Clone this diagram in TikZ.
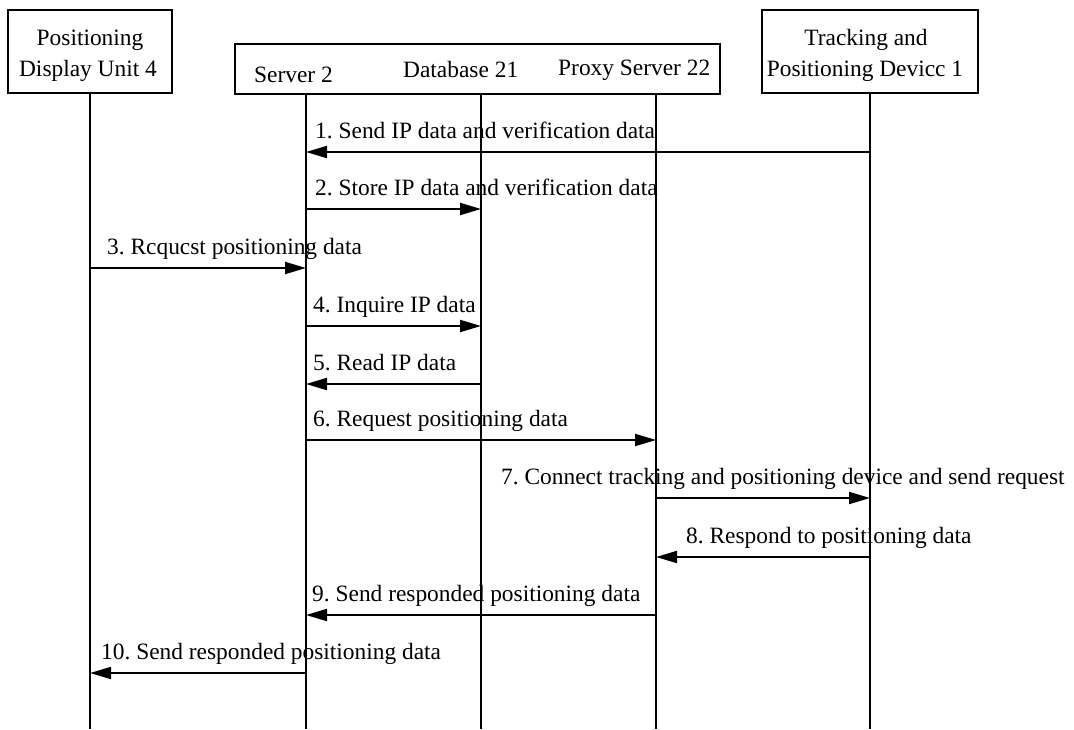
\documentclass[tikz,border=0pt]{standalone}
\usepackage{fontspec}
\setmainfont{Liberation Serif}
\usetikzlibrary{arrows.meta}
\frenchspacing
\begin{document}
\begin{tikzpicture}[x=1pt,y=-1pt,
  lw/.style={line width=2pt},
  box/.style={draw, lw, rectangle, inner sep=0pt},
  life/.style={lw},
  msg/.style={lw, -{Triangle[length=21pt,width=12pt]}},
  txt/.style={inner sep=0pt, font=\fontsize{23.4}{28}\selectfont\frenchspacing},
  lab/.style={txt, anchor=base west}]
\useasboundingbox (0,0) rectangle (1074,729);
% boxes
\node[box, minimum width=164pt, minimum height=83pt] (D) at (90,51.5) {};
\node[box, minimum width=485pt, minimum height=50pt] (S) at (477.5,69) {};
\node[box, minimum width=216pt, minimum height=83pt] (T) at (870,51.5) {};
% box texts
\node[txt, anchor=base] (D1) at (90,45) {Positioning};
\node[txt, anchor=base] (D2) at (88,76) {Display Unit 4};
\node[txt, anchor=base] (T1) at (866,45) {Tracking and};
\node[txt, anchor=base] (T2) at (865,76) {Positioning Devicc 1};
\node[txt, anchor=base west] (S1) at (254,82) {Server 2};
\node[txt, anchor=base west] (S2) at (403,77) {Database 21};
\node[txt, anchor=base west] (S3) at (558,75) {Proxy Server 22};
% lifeline ends
\coordinate (dspT) at (90,93);   \coordinate (dspB) at (90,729);
\coordinate (srvT) at (306,94);  \coordinate (srvB) at (306,729);
\coordinate (dbT) at (481,94);   \coordinate (dbB) at (481,729);
\coordinate (prxT) at (656,94);  \coordinate (prxB) at (656,729);
\coordinate (trkT) at (870,93);  \coordinate (trkB) at (870,729);
\draw[life] (dspT) -- (dspB);
\draw[life] (srvT) -- (srvB);
\draw[life] (dbT) -- (dbB);
\draw[life] (prxT) -- (prxB);
\draw[life] (trkT) -- (trkB);
% message rows
\coordinate (m1) at (0,152);
\coordinate (m2) at (0,209);
\coordinate (m3) at (0,268);
\coordinate (m4) at (0,326);
\coordinate (m5) at (0,384);
\coordinate (m6) at (0,440);
\coordinate (m7) at (0,498);
\coordinate (m8) at (0,557);
\coordinate (m9) at (0,615);
\coordinate (m10) at (0,673);
\draw[msg] (trkB |- m1) -- (srvB |- m1);
\draw[msg] (srvB |- m2) -- (dbB |- m2);
\draw[msg] (dspB |- m3) -- (srvB |- m3);
\draw[msg] (srvB |- m4) -- (dbB |- m4);
\draw[msg] (dbB |- m5) -- (srvB |- m5);
\draw[msg] (srvB |- m6) -- (prxB |- m6);
\draw[msg] (prxB |- m7) -- (trkB |- m7);
\draw[msg] (trkB |- m8) -- (prxB |- m8);
\draw[msg] (prxB |- m9) -- (srvB |- m9);
\draw[msg] (srvB |- m10) -- (dspB |- m10);
% labels
\node[lab] (l1) at (315,138) {1. Send IP data and verification data};
\node[lab] (l2) at (315,195) {2. Store IP data and verification data};
\node[lab] (l3) at (107,254) {3. Rcqucst positioning data};
\node[lab] (l4) at (313,312) {4. Inquire IP data};
\node[lab] (l5) at (313,370) {5. Read IP data};
\node[lab] (l6) at (313,426) {6. Request positioning data};
\node[lab] (l7) at (501,484) {7. Connect tracking and positioning device and send request};
\node[lab] (l8) at (686,543) {8. Respond to positioning data};
\node[lab] (l9) at (312,601) {9. Send responded positioning data};
\node[lab] (l10) at (101,659) {10. Send responded positioning data};
\end{tikzpicture}
\end{document}
